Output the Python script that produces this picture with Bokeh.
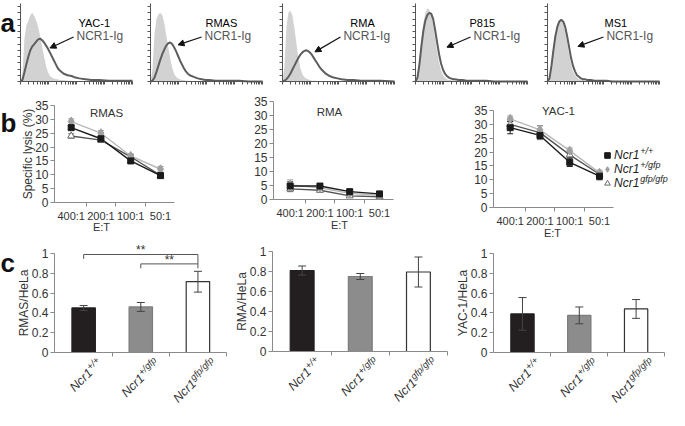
import math
from bokeh.plotting import figure
from bokeh.layouts import row, column
from bokeh.models import (Range1d, FixedTicker, Label, Arrow, NormalHead, TeeHead, Whisker,
                          ColumnDataSource, Legend, LegendItem, PrintfTickFormatter)
from bokeh.embed import file_html
from bokeh.resources import INLINE

FONT = "Liberation Sans"
TXT = "#333333"
AXC = "#8a8a8a"

# ---------------- panel a: flow cytometry histograms (% of max) ----------------
hist_channel = [0, 2, 4, 6, 8, 10, 12, 14, 16, 18, 20, 22, 24, 26, 28, 30, 32, 34, 36, 38,
                40, 44, 48, 52, 56, 60, 66, 72, 80, 90, 100, 114]
hist_cells = ["YAC-1", "RMAS", "RMA", "P815", "MS1"]
ctrl_yac1 = [0, 10, 55, 72, 78, 85, 88, 84, 78, 70, 58, 45, 32, 20, 12, 7, 5, 4, 3, 3, 2, 2, 1, 1, 0, 0, 0, 0, 0, 0, 0, 0]
ncr_yac1 = [0, 2, 12, 22, 32, 40, 45, 48, 51, 54, 55, 53, 50, 46, 42, 37, 32, 27, 22, 17, 14, 10, 8, 7, 5, 4, 3, 2, 2, 1, 1, 1]
ctrl_rmas = [0, 15, 60, 80, 86, 88, 85, 75, 60, 45, 30, 18, 10, 6, 4, 3, 2, 2, 1, 1, 1, 0, 0, 0, 0, 0, 0, 0, 0, 0, 0, 0]
ncr_rmas = [0, 1, 5, 12, 20, 28, 35, 41, 46, 49, 50, 48, 44, 39, 33, 27, 22, 17, 13, 10, 8, 6, 4, 3, 2, 2, 1, 1, 1, 1, 0, 0]
ctrl_rma = [0, 20, 70, 88, 91, 85, 70, 50, 32, 18, 10, 6, 4, 3, 2, 1, 1, 1, 0, 0, 0, 0, 0, 0, 0, 0, 0, 0, 0, 0, 0, 0]
ncr_rma = [0, 1, 3, 6, 10, 15, 20, 25, 30, 34, 37, 39, 40, 39, 37, 34, 30, 26, 22, 18, 15, 10, 7, 5, 4, 3, 2, 2, 1, 1, 1, 0]
ctrl_p815 = [0, 8, 30, 55, 75, 88, 94, 92, 85, 72, 55, 38, 24, 14, 8, 5, 3, 2, 2, 1, 1, 0, 0, 0, 0, 0, 0, 0, 0, 0, 0, 0]
ncr_p815 = [0, 5, 22, 45, 65, 78, 85, 88, 87, 80, 66, 50, 35, 23, 15, 10, 7, 5, 4, 3, 3, 2, 2, 1, 1, 1, 1, 1, 0, 0, 0, 0]
ctrl_ms1 = [0, 6, 25, 45, 62, 72, 77, 78, 74, 64, 50, 35, 22, 13, 8, 5, 3, 2, 2, 1, 1, 0, 0, 0, 0, 0, 0, 0, 0, 0, 0, 0]
ncr_ms1 = [0, 4, 20, 40, 58, 70, 77, 79, 77, 70, 58, 44, 30, 20, 13, 8, 6, 4, 3, 3, 2, 2, 1, 1, 1, 1, 0, 0, 0, 0, 0, 0]
hist_ctrl = [ctrl_yac1, ctrl_rmas, ctrl_rma, ctrl_p815, ctrl_ms1]
hist_ncr = [ncr_yac1, ncr_rmas, ncr_rma, ncr_p815, ncr_ms1]

# ---------------- panel b: specific lysis (%) ----------------
et_ratios = ["400:1", "200:1", "100:1", "50:1"]
genotypes = ["+/+", "+/gfp", "gfp/gfp"]
lysis_rmas_wt = [27.0, 23.0, 15.0, 9.7]
lysis_rmas_het = [29.2, 25.0, 16.8, 12.0]
lysis_rmas_ko = [24.0, 22.5, 16.5, 9.8]
err_rmas_wt = [0.8, 0.8, 0.6, 0.8]
err_rmas_het = [1.0, 1.0, 0.8, 1.0]
err_rmas_ko = [0.8, 0.8, 0.8, 0.8]
lysis_rma_wt = [4.8, 4.8, 2.8, 2.0]
lysis_rma_het = [5.2, 4.2, 2.2, 1.5]
lysis_rma_ko = [3.8, 3.3, 1.3, 1.0]
err_rma_wt = [1.5, 0.8, 0.8, 0.6]
err_rma_het = [1.8, 0.8, 0.6, 0.5]
err_rma_ko = [1.0, 0.6, 0.5, 0.5]
lysis_yac_wt = [28.8, 26.0, 16.3, 11.3]
lysis_yac_het = [32.0, 28.0, 20.5, 12.5]
lysis_yac_ko = [30.0, 27.0, 19.0, 12.0]
err_yac_wt = [2.2, 1.0, 1.5, 1.3]
err_yac_het = [1.0, 1.5, 1.0, 1.0]
err_yac_ko = [1.5, 2.5, 1.0, 1.0]

# ---------------- panel c: target / HeLa ratios ----------------
ratio_rmas = [0.45, 0.46, 0.715]
ratio_rmas_err = [0.025, 0.045, 0.105]
ratio_rma = [0.81, 0.75, 0.795]
ratio_rma_err = [0.045, 0.03, 0.15]
ratio_yac = [0.39, 0.375, 0.44]
ratio_yac_err = [0.165, 0.085, 0.095]

EM = {'+': 0.584, '/': 0.278, 'g': 0.556, 'f': 0.278, 'p': 0.556}


def text_w(s, size):
    return sum(EM.get(c, 0.55) for c in s) * size


def mk(w, h, bl, br, bt, bb, x0, x1, y0, y1):
    """Figure whose frame fills the canvas; the plotting box (x0..x1, y0..y1) sits inside
    with the given pixel margins, axes drawn at its edges via fixed_location + bounds."""
    kx = (x1 - x0) / (w - bl - br)
    ky = (y1 - y0) / (h - bt - bb)
    p = figure(width=w, height=h, x_range=Range1d(x0 - bl * kx, x1 + br * kx),
               y_range=Range1d(y0 - bb * ky, y1 + bt * ky), min_border=0,
               toolbar_location=None, output_backend="svg")
    p.grid.visible = False
    p.outline_line_color = None
    p.xaxis.fixed_location = y0
    p.xaxis.bounds = (x0, x1)
    p.yaxis.fixed_location = x0
    p.yaxis.bounds = (y0, y1)
    for ax in p.axis:
        ax.axis_line_color = AXC
        ax.major_tick_line_color = AXC
        ax.minor_tick_line_color = AXC
        ax.major_label_text_font = FONT
        ax.major_label_text_font_size = "12px"
        ax.major_label_text_color = TXT
        ax.major_tick_in = 0
        ax.minor_tick_in = 0
    return p


def lab(p, x, y_top, text, size="12px", angle=0, align="center", baseline="middle", style="normal",
        color=TXT, font=FONT):
    p.add_layout(Label(x=x, y=p.height - y_top, x_units="screen", y_units="screen", text=text,
                       text_font=font, text_font_size=size, text_font_style=style, text_color=color,
                       angle=angle, angle_units="deg", text_align=align, text_baseline=baseline))


def letter(p, text, x, y_top):
    lab(p, x, y_top, text, size="26px", align="left", baseline="alphabetic", style="bold", color="#111111")


# ================= row a =================
A_BOUNDS = [0, 140, 272, 405, 537, 669]
A_LEFT = [20, 150, 282, 415, 547]
A_W = 112
A_ROW_H, A_TOP, A_BOT = 90, 3, 81
a_title_x = [59, 56, 69, 55, 58]
a_text_x = [57, 55, 62, 59, 60]
a_arrow = [(54, 57, 30, 43), (52, 57, 28, 47), (59, 57, 33, 38), (56, 57, 32, 44), (57, 57, 31, 45)]
dec = 28.5
x_minor = [dec * (d + math.log10(k)) for d in range(4) for k in range(1, 10)] + [4 * dec]

figs_a = []
for i, cell in enumerate(hist_cells):
    fl, fr = A_BOUNDS[i], A_BOUNDS[i + 1]
    w = fr - fl
    bl = A_LEFT[i] - fl
    p = mk(w, A_ROW_H, bl, w - bl - A_W, A_TOP, A_ROW_H - A_BOT, 0, 114, 0, 100)
    p.varea(x=hist_channel, y1=0, y2=hist_ctrl[i], fill_color="#d2d2d2")
    p.line(x=hist_channel, y=hist_ncr[i], line_color="#5e5e5e", line_width=2)
    for ax in p.axis:
        ax.axis_line_color = "#555555"
        ax.minor_tick_line_color = "#555555"
        ax.minor_tick_out = 3
    p.xaxis.ticker = FixedTicker(ticks=[], minor_ticks=x_minor)
    p.yaxis.ticker = FixedTicker(ticks=[], minor_ticks=list(range(0, 101, 8)))
    p.add_layout(Label(x=a_title_x[i], y=75, text=cell, text_font=FONT, text_font_size="11px",
                       text_color="#000000", text_align="left", text_baseline="middle"))
    p.add_layout(Label(x=a_text_x[i], y=58, text="NCR1-Ig", text_font=FONT, text_font_size="12px",
                       text_color="#555555", text_align="left", text_baseline="middle"))
    x0, y0, x1, y1 = a_arrow[i]
    p.add_layout(Arrow(x_start=x0, y_start=y0, x_end=x1, y_end=y1, line_color="#111111", line_width=1.2,
                       end=NormalHead(size=6, fill_color="#111111", line_color="#111111")))
    if i == 0:
        letter(p, "a", 0, 22)
    figs_a.append(p)

# ================= panel b =================
ST = {
    "wt": dict(marker="square", size=6, fill="#1a1a1a", edge="#1a1a1a", ln="#1a1a1a", err="#1a1a1a"),
    "het": dict(marker="diamond", size=9, fill="#a0a0a0", edge="#a0a0a0", ln="#b8b8b8", err="#a0a0a0"),
    "ko": dict(marker="triangle", size=7, fill="#ffffff", edge="#6a6a6a", ln="#555555", err="#6a6a6a"),
}


def lysis_fig(w, h, bl, br, bt, bb, series, title, title_xy, et_xy):
    p = mk(w, h, bl, br, bt, bb, -0.56, 3.47, 0, 35)
    xs = list(range(len(et_ratios)))
    srcs = []
    for key, vals, errs in series:
        st = ST[key]
        src = ColumnDataSource(dict(x=xs, y=vals,
                                    upper=[v + e for v, e in zip(vals, errs)],
                                    lower=[v - e for v, e in zip(vals, errs)]))
        p.add_layout(Whisker(source=src, base="x", upper="upper", lower="lower",
                             line_color=st["err"], line_width=1,
                             upper_head=TeeHead(size=6, line_color=st["err"], line_width=1),
                             lower_head=TeeHead(size=6, line_color=st["err"], line_width=1)))
        srcs.append((key, src))
    for key, src in srcs:
        p.line("x", "y", source=src, line_color=ST[key]["ln"], line_width=1.4)
    rends = []
    for key, src in srcs:
        st = ST[key]
        rends.append(p.scatter("x", "y", source=src, marker=st["marker"], size=st["size"],
                               fill_color=st["fill"], line_color=st["edge"], line_width=1))
    p.yaxis.ticker = FixedTicker(ticks=list(range(0, 36, 5)))
    p.yaxis.major_tick_out = 4
    p.yaxis.major_label_standoff = 2
    p.xaxis.ticker = FixedTicker(ticks=xs, minor_ticks=[0.5, 1.5, 2.5])
    p.xaxis.major_tick_out = 0
    p.xaxis.minor_tick_out = 4
    p.xaxis.major_label_standoff = 3
    p.xaxis.major_label_text_font_size = "11px"
    p.xaxis.major_label_overrides = {i: t for i, t in enumerate(et_ratios)}
    lab(p, et_xy[0], et_xy[1], "E:T", size="11px")
    lab(p, title_xy[0], title_xy[1], title, size="11.5px")
    return p, rends


b1, _ = lysis_fig(232, 145, 54, 58, 15, 33,
                  [("ko", lysis_rmas_ko, err_rmas_ko), ("het", lysis_rmas_het, err_rmas_het),
                   ("wt", lysis_rmas_wt, err_rmas_wt)], "RMAS", (106, 22), (101, 136))
lab(b1, 27, 63.5, "Specific lysis (%)", angle=90)
letter(b1, "b", 0, 32)
b2, _ = lysis_fig(220, 148, 41, 59, 11, 39,
                  [("ko", lysis_rma_ko, err_rma_ko), ("het", lysis_rma_het, err_rma_het),
                   ("wt", lysis_rma_wt, err_rma_wt)], "RMA", (97, 21.5), (107, 134))
b3, r3 = lysis_fig(217, 152, 41, 56, 20, 35,
                   [("ko", lysis_yac_ko, err_yac_ko), ("het", lysis_yac_het, err_yac_het),
                    ("wt", lysis_yac_wt, err_yac_wt)], "YAC-1", (106, 20.6), (100, 142))

# legend (genotype names with superscript allele); location = bottom-left corner of the box
LEG_X, LEG_TOP, LEG_ROW = 148, 93.8, 14
legend = Legend(items=[LegendItem(label="Ncr1", renderers=[r3[2]]),
                       LegendItem(label="Ncr1", renderers=[r3[1]]),
                       LegendItem(label="Ncr1", renderers=[r3[0]])],
                location=(LEG_X, LEG_TOP - 3 * LEG_ROW), orientation="vertical", label_text_font=FONT,
                label_text_font_style="italic", label_text_font_size="12px", label_text_color="#222222",
                glyph_width=14, glyph_height=14, label_height=14, label_standoff=0, spacing=0,
                padding=0, margin=0, border_line_color=None, background_fill_alpha=0)
b3.add_layout(legend)
for k, g in enumerate(genotypes):
    b3.add_layout(Label(x=LEG_X + 14 + 25.8, y=LEG_TOP - LEG_ROW * (k + 0.5) + 4.5,
                        x_units="screen", y_units="screen",
                        text=g, text_font=FONT, text_font_style="italic", text_font_size="9px",
                        text_color="#222222", text_align="left", text_baseline="middle"))

# ================= panel c =================
BAR_FILL = ["#231f20", "#8c8c8c", "#ffffff"]
BAR_EDGE = ["#231f20", "#7c7c7c", "#333333"]
C45 = math.cos(math.radians(45))
BASE_PX, SUP_PX, RAISE = 12.5, 9.5, 4
TIP_DX, TIP_DY = 9, 1   # top-right tip of each rotated label, relative to the category / axis


def ratio_fig(w, h, bl, br, bt, bb, vals, errs, ylabel, ylab_x):
    p = mk(w, h, bl, br, bt, bb, -0.51, 2.5, 0, 1)
    xs = list(range(len(genotypes)))
    src = ColumnDataSource(dict(x=xs, top=vals, fill=BAR_FILL, edge=BAR_EDGE,
                                upper=[v + e for v, e in zip(vals, errs)],
                                lower=[v - e for v, e in zip(vals, errs)]))
    p.vbar(x="x", top="top", width=0.41, bottom=0, source=src, fill_color="fill", line_color="edge",
           line_width=1.2)
    p.add_layout(Whisker(source=src, base="x", upper="upper", lower="lower", line_color="#444444",
                         line_width=1, level="overlay",
                         upper_head=TeeHead(size=8, line_color="#444444", line_width=1),
                         lower_head=TeeHead(size=8, line_color="#444444", line_width=1)))
    p.yaxis.ticker = FixedTicker(ticks=[0, 0.2, 0.4, 0.6, 0.8, 1.0])
    p.yaxis.formatter = PrintfTickFormatter(format="%g")
    p.yaxis.major_tick_out = 4
    p.yaxis.major_label_standoff = 2
    p.xaxis.ticker = FixedTicker(ticks=[], minor_ticks=[0.5, 1.5, 2.5])
    p.xaxis.minor_tick_out = 4
    lab(p, ylab_x, bt + (h - bt - bb) / 2, ylabel, angle=90)
    cap = 0.716 * SUP_PX
    for i, g in enumerate(genotypes):
        ws = text_w(g, SUP_PX)
        a_dx = TIP_DX + C45 * (cap + RAISE) - C45 * ws
        a_below = TIP_DY + C45 * (cap + RAISE) + C45 * ws
        p.add_layout(Label(x=i, y=bb - a_below, x_units="data", y_units="screen", x_offset=a_dx,
                           text="Ncr1", angle=45, angle_units="deg", text_font=FONT,
                           text_font_style="italic", text_font_size=f"{BASE_PX}px", text_color=TXT,
                           text_align="right", text_baseline="alphabetic"))
        p.add_layout(Label(x=i, y=bb - a_below + C45 * RAISE, x_units="data", y_units="screen",
                           x_offset=a_dx - C45 * RAISE, text=g,
                           angle=45, angle_units="deg", text_font=FONT, text_font_style="italic",
                           text_font_size=f"{SUP_PX}px", text_color=TXT, text_align="left",
                           text_baseline="alphabetic"))
    return p


c1 = ratio_fig(232, 175, 54, 6, 18, 58, ratio_rmas, ratio_rmas_err, "RMAS/HeLa", 23.6)
letter(c1, "c", 0, 27)
# significance brackets (RMAS)
c1.line(x=[0, 0, 2, 2], y=[0.945, 0.99, 0.99, 0.85], line_color="#555555", line_width=1)
c1.line(x=[1, 1, 2], y=[0.85, 0.895, 0.895], line_color="#555555", line_width=1)
for sx, sy in [(1, 1.04), (1.5, 0.935)]:
    c1.add_layout(Label(x=sx, y=sy, text="**", text_font=FONT, text_font_size="12px", text_color=TXT,
                        text_align="center", text_baseline="middle"))
c2 = ratio_fig(220, 172, 40, 5, 13, 59, ratio_rma, ratio_rma_err, "RMA/HeLa", 9.3)
c3 = ratio_fig(217, 168, 41, 5, 11, 58, ratio_yac, ratio_yac_err, "YAC-1/HeLa", 10)

layout = column(row(*figs_a, spacing=0),
                row(column(b1, c1, spacing=0), column(b2, c2, spacing=0), column(b3, c3, spacing=0), spacing=0),
                spacing=0)

open("out.html", "w").write(file_html(layout, INLINE))
